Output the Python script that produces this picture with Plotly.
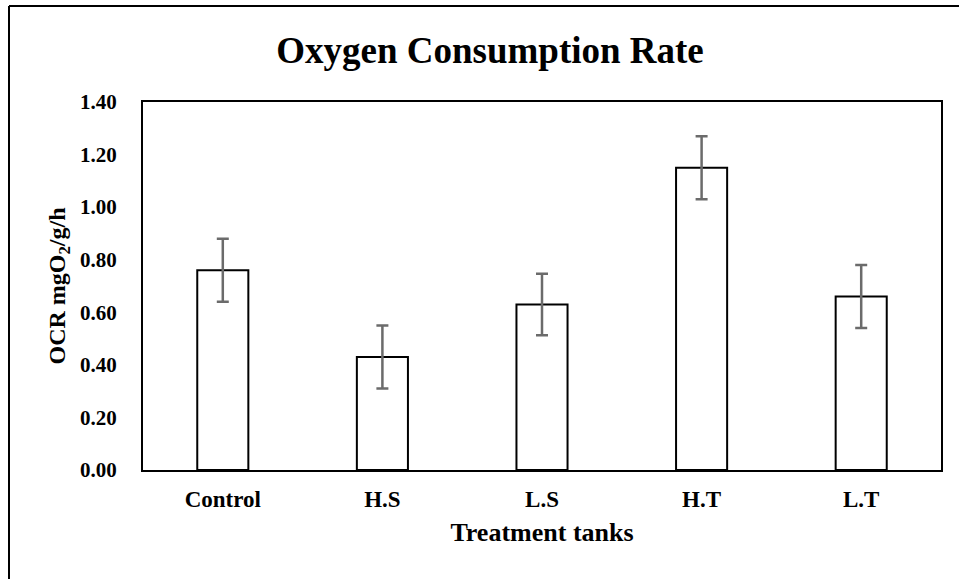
import plotly.graph_objects as go

categories = ["Control", "H.S", "L.S", "H.T", "L.T"]
ocr_values = [0.76, 0.43, 0.63, 1.15, 0.66]
ocr_errors = [0.12, 0.12, 0.117, 0.12, 0.12]
y_ticks = [0.0, 0.2, 0.4, 0.6, 0.8, 1.0, 1.2, 1.4]
y_tick_labels = [f"{v:.2f}" for v in y_ticks]

FONT = "Liberation Serif, Times New Roman, serif"

fig = go.Figure()
fig.add_trace(go.Bar(
    x=categories,
    y=ocr_values,
    marker=dict(color="white", line=dict(color="black", width=2)),
    error_y=dict(type="data", array=ocr_errors, visible=True,
                 color="#6b6b6b", thickness=2.5, width=6),
    showlegend=False,
))

fig.update_layout(
    width=959, height=579,
    margin=dict(l=143, r=18, t=102, b=109),
    paper_bgcolor="white", plot_bgcolor="white",
    bargap=0.68,
    font=dict(family=FONT, color="black"),
    title=dict(text="<b>Oxygen Consumption Rate</b>", font=dict(size=37, family=FONT, color="black"),
               x=490 / 959, xref="container", xanchor="center",
               y=1 - 50 / 579, yref="container", yanchor="middle"),
    xaxis=dict(
        showline=True, linecolor="black", linewidth=2, mirror=True,
        showgrid=False, ticks="", ticklabelstandoff=7,
        tickfont=dict(size=23, family=FONT),
        tickprefix="<b>", ticksuffix="</b>",
        title=dict(text="<b>Treatment tanks</b>", font=dict(size=26, family=FONT), standoff=12),
    ),
    yaxis=dict(
        range=[0, 1.4],
        showline=True, linecolor="black", linewidth=2, mirror=True,
        showgrid=False, ticks="", ticklabelstandoff=20,
        tickvals=y_ticks, ticktext=[f"<b>{t}</b>" for t in y_tick_labels],
        tickfont=dict(size=21, family=FONT),
        zeroline=False,
        title=dict(text="<b>OCR mgO<sub>2</sub>/g/h</b>", font=dict(size=24, family=FONT), standoff=8),
    ),
    shapes=[
        dict(type="line", xref="paper", yref="paper",
             x0=(9 - 143) / 798, x1=(959 - 143) / 798, y0=(470 - 6) / 368, y1=(470 - 6) / 368,
             line=dict(color="black", width=2)),
        dict(type="line", xref="paper", yref="paper",
             x0=(9 - 143) / 798, x1=(9 - 143) / 798, y0=(470 - 6) / 368, y1=(470 - 579) / 368,
             line=dict(color="black", width=2)),
    ],
)

fig.write_html("out.html", config={"displayModeBar": False},
               post_script="document.body.style.margin='0px';")
